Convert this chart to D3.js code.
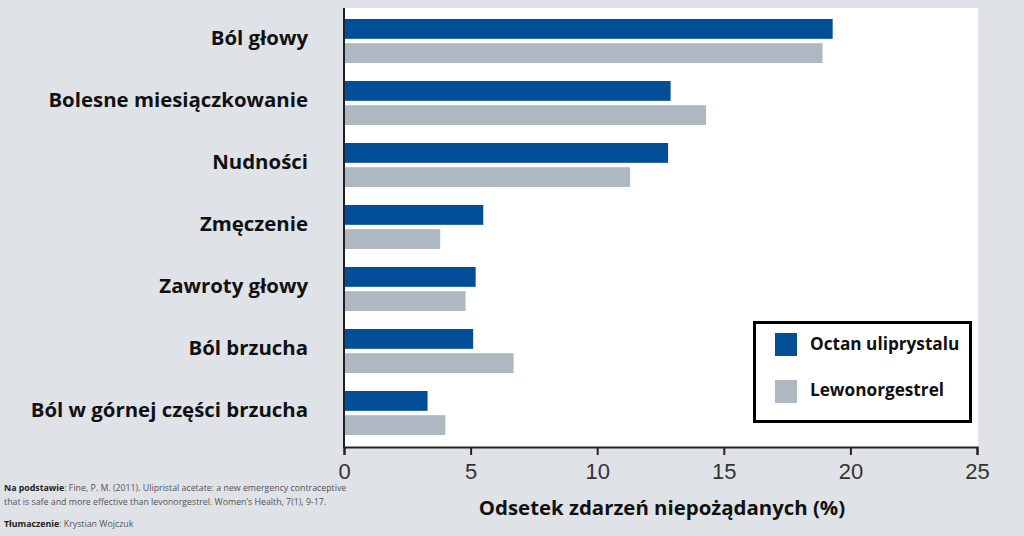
<!DOCTYPE html>
<html>
<head>
<meta charset="utf-8">
<script src="https://cdn.jsdelivr.net/npm/d3@7"></script>
<style>
  body { margin: 0; background: #dfe2e6; }
  svg { display: block; }
</style>
</head>
<body>
<div id="vis"></div>
<script>
var categories = ['Ból głowy', 'Bolesne miesiączkowanie', 'Nudności', 'Zmęczenie',
  'Zawroty głowy', 'Ból brzucha', 'Ból w górnej części brzucha'];
var seriesNames = ['Octan uliprystalu', 'Lewonorgestrel'];
var ulipristal = [19.3, 12.9, 12.8, 5.5, 5.2, 5.1, 3.3];
var levonorgestrel = [18.9, 14.3, 11.3, 3.8, 4.8, 6.7, 4.0];
var xTicks = [0, 5, 10, 15, 20, 25];

var width = 1024;
var height = 536;
var colors = ['#034e98', '#aeb8c2'];

var svg = d3.select('#vis').append('svg')
  .attr('width', width)
  .attr('height', height);

var x = d3.scaleLinear().domain([0, 25]).range([344, 977]);
var y = d3.scaleBand().domain(categories).range([8, 442]);
var inner = d3.scaleBand().domain(seriesNames).range([11, 55]).paddingInner(0.18);

// white plot panel
svg.append('rect')
  .attr('x', 344).attr('y', 8)
  .attr('width', 978 - 344).attr('height', 447 - 8)
  .attr('fill', '#fff');

var rows = categories.map(function(c, i) {
  return { cat: c, vals: [ulipristal[i], levonorgestrel[i]] };
});

var groups = svg.selectAll('.grp')
  .data(rows)
  .enter().append('g')
  .attr('class', 'grp')
  .attr('transform', function(d) { return 'translate(0,' + y(d.cat) + ')'; });

groups.selectAll('rect')
  .data(function(d) {
    return d.vals.map(function(v, j) { return { name: seriesNames[j], v: v, j: j }; });
  })
  .enter().append('rect')
  .attr('x', x(0))
  .attr('y', function(d) { return inner(d.name); })
  .attr('height', inner.bandwidth())
  .attr('width', function(d) { return x(d.v) - x(0); })
  .attr('fill', function(d) { return colors[d.j]; });

// category labels
svg.selectAll('.cat')
  .data(categories)
  .enter().append('text')
  .attr('class', 'cat')
  .attr('x', 308)
  .attr('y', function(d) { return y(d) + y.bandwidth() / 2 - 1; })
  .attr('dy', '0.35em')
  .attr('text-anchor', 'end')
  .style('font-family', '"Open Sans", sans-serif')
  .style('font-weight', 700)
  .style('font-size', '20.4px')
  .attr('fill', '#111')
  .text(function(d) { return d; });

// x axis
var xAxis = svg.append('g')
  .attr('transform', 'translate(0,447)')
  .call(d3.axisBottom(x).tickValues(xTicks).tickSize(8).tickPadding(8));
xAxis.select('.domain').attr('stroke', '#222').attr('stroke-width', 2);
xAxis.selectAll('.tick line').attr('stroke', '#222').attr('stroke-width', 2);
xAxis.selectAll('.tick text')
  .style('font-family', '"Liberation Sans", Arial, sans-serif')
  .style('font-size', '22px')
  .attr('fill', '#333');

// y axis line
svg.append('line')
  .attr('x1', 344).attr('x2', 344)
  .attr('y1', 8).attr('y2', 448)
  .attr('stroke', '#222').attr('stroke-width', 2);

svg.append('text')
  .attr('x', 662).attr('y', 515)
  .attr('text-anchor', 'middle')
  .style('font-family', '"Open Sans", sans-serif')
  .style('font-weight', 700)
  .style('font-size', '20.4px')
  .attr('fill', '#111')
  .text('Odsetek zdarzeń niepożądanych (%)');

// legend
var legend = svg.append('g');
legend.append('rect')
  .attr('x', 754.5).attr('y', 322.5)
  .attr('width', 216).attr('height', 99)
  .attr('fill', '#fff')
  .attr('stroke', '#000')
  .attr('stroke-width', 3);
seriesNames.forEach(function(s, i) {
  legend.append('rect')
    .attr('x', 775).attr('y', 333 + i * 47)
    .attr('width', 22).attr('height', 23)
    .attr('fill', colors[i]);
  legend.append('text')
    .attr('x', 810).attr('y', 350 + i * 46)
    .style('font-family', '"Open Sans", sans-serif')
    .style('font-weight', 700)
    .style('font-size', '17.2px')
    .attr('fill', '#111')
    .text(s);
});

// source note
var note = svg.append('g')
  .style('font-family', '"Open Sans", sans-serif')
  .style('font-size', '8.8px')
  .attr('fill', '#555');
var t1 = note.append('text').attr('x', 4).attr('y', 491);
t1.append('tspan').style('font-weight', 700).attr('fill', '#222').text('Na podstawie');
t1.append('tspan').text(': Fine, P. M. (2011). Ulipristal acetate: a new emergency contraceptive');
note.append('text').attr('x', 4).attr('y', 505)
  .text('that is safe and more effective than levonorgestrel. Women\u2019s Health, 7(1), 9-17.');
var t3 = note.append('text').attr('x', 4).attr('y', 527);
t3.append('tspan').style('font-weight', 700).attr('fill', '#222').text('Tłumaczenie');
t3.append('tspan').text(': Krystian Wojczuk');
</script>
</body>
</html>
